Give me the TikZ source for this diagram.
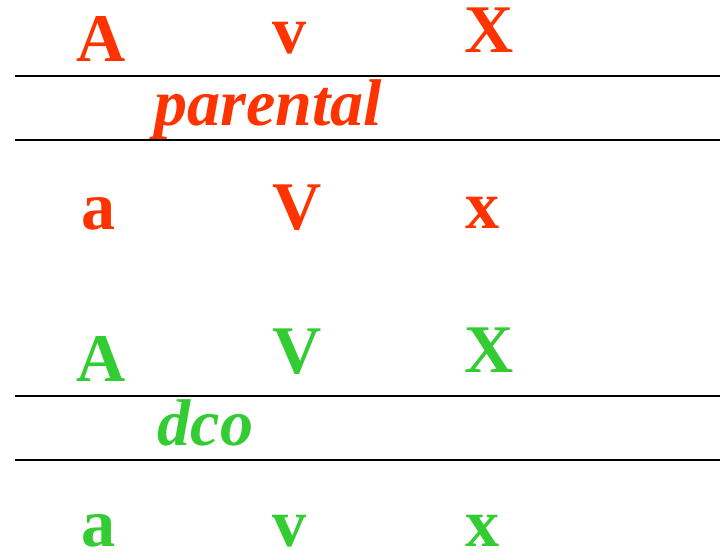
\documentclass[tikz,border=0pt]{standalone}
\usepackage{fontspec}
\setmainfont{Liberation Serif}
\definecolor{parred}{RGB}{255,51,0}
\definecolor{dcogreen}{RGB}{51,204,51}
\tikzset{
  allele/.style={inner sep=0, anchor=base, font=\fontsize{19.4}{20}\selectfont\bfseries},
  tag/.style={inner sep=0, anchor=base west, font=\fontsize{18.8}{20}\selectfont\bfseries\itshape},
  chrom/.style={line width=0.6pt}
}
\begin{document}
\begin{tikzpicture}[x=1cm, y=-1cm]
\useasboundingbox (0,0) rectangle (7.2,5.5);
% parental
\node[allele, parred] (pA) at (1.01,0.61) {A};
\node[allele, parred] (pv) at (2.90,0.53) {v};
\node[allele, parred] (pX) at (4.89,0.52) {X};
\draw[chrom] (0.15,0.76) -- (7.2,0.76);
\node[tag, parred] (par) at (1.54,1.25) {parental};
\draw[chrom] (0.15,1.40) -- (7.2,1.40);
\node[allele, parred] (pa) at (0.985,2.29) {a};
\node[allele, parred] (pV) at (2.97,2.29) {V};
\node[allele, parred] (px) at (4.825,2.28) {x};
% dco
\node[allele, dcogreen] (dA) at (1.01,3.81) {A};
\node[allele, dcogreen] (dV) at (2.97,3.73) {V};
\node[allele, dcogreen] (dX) at (4.89,3.72) {X};
\draw[chrom] (0.15,3.96) -- (7.2,3.96);
\node[tag, dcogreen] (dco) at (1.57,4.45) {dco};
\draw[chrom] (0.15,4.60) -- (7.2,4.60);
\node[allele, dcogreen] (da) at (0.985,5.46) {a};
\node[allele, dcogreen] (dv) at (2.90,5.46) {v};
\node[allele, dcogreen] (dx) at (4.825,5.46) {x};
\end{tikzpicture}
\end{document}
